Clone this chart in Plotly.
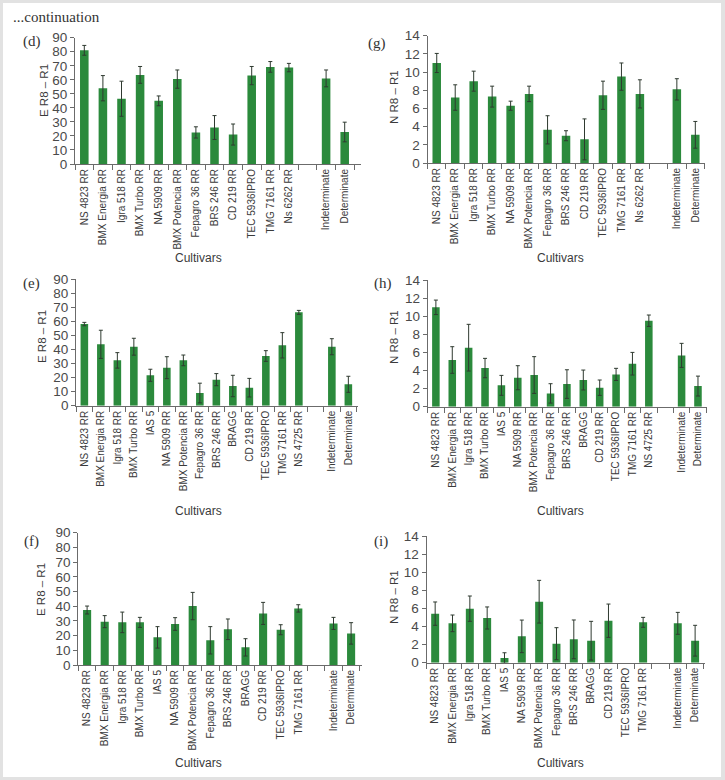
import plotly.graph_objects as go

W, H = 725, 780

# ---------------- data ----------------
cult_d = ["NS 4823 RR", "BMX Energia RR", "Igra 518 RR", "BMX Turbo RR", "NA 5909 RR",
          "BMX Potencia RR", "Fepagro 36 RR", "BRS 246 RR", "CD 219 RR", "TEC 5936IPRO",
          "TMG 7161 RR", "Ns 6262 RR"]
cult_e = ["NS 4823 RR", "BMX Energia RR", "Igra 518 RR", "BMX Turbo RR", "IAS 5", "NA 5909 RR",
          "BMX Potencia RR", "Fepagro 36 RR", "BRS 246 RR", "BRAGG", "CD 219 RR", "TEC 5936IPRO",
          "TMG 7161 RR", "NS 4725 RR"]
cult_f = ["NS 4823 RR", "BMX Energia RR", "Igra 518 RR", "BMX Turbo RR", "IAS 5", "NA 5909 RR",
          "BMX Potencia RR", "Fepagro 36 RR", "BRS 246 RR", "BRAGG", "CD 219 RR", "TEC 5936IPRO",
          "TMG 7161 RR"]
habit = ["Indeterminate", "Determinate"]

# (d) E R8-R1
val_d = [81, 54, 46.5, 63.5, 45, 60.5, 22.5, 26, 21, 63, 69.2, 68.7]
err_d = [3.5, 9, 12.5, 6, 3.5, 6.5, 4, 8.5, 7.5, 6.5, 3.8, 3]
hab_d = [61, 22.8]
herr_d = [6, 7]

# (g) N R8-R1
val_g = [11.0, 7.2, 9.0, 7.3, 6.3, 7.6, 3.65, 3.0, 2.6, 7.45, 9.5, 7.6]
err_g = [1.05, 1.4, 1.1, 1.15, 0.5, 0.85, 1.55, 0.55, 2.25, 1.55, 1.5, 1.55]
hab_g = [8.1, 3.1]
herr_g = [1.17, 1.47]

# (e) E R8-R1
val_e = [58, 43.6, 32.2, 41.9, 21.6, 27, 32.2, 9, 18.5, 14, 12.8, 35.3, 42.9, 66.3]
err_e = [1.2, 10, 5.5, 6, 4.3, 7.8, 3.8, 7, 4.3, 7.6, 6.6, 3.8, 9, 1.4]
hab_e = [41.9, 15.2]
herr_e = [5.7, 5.7]

# (h) N R8-R1
val_h = [10.98, 5.16, 6.52, 4.27, 2.36, 3.2, 3.5, 1.47, 2.5, 2.95, 2.1, 3.57, 4.75, 9.5]
err_h = [0.8, 1.47, 2.58, 1.07, 1.1, 1.33, 2.03, 1.07, 1.58, 1.1, 0.85, 0.67, 1.25, 0.63]
hab_h = [5.67, 2.28]
herr_h = [1.33, 1.1]

# (f) E R8-R1
val_f = [37.4, 29.5, 29, 29, 18.8, 27.9, 40.1, 16.8, 24.3, 12, 35.1, 24, 38.5]
err_f = [2.7, 4.1, 7, 3.4, 7.3, 4.3, 9.3, 9.3, 7, 5.9, 7.5, 3.4, 2.5]
hab_f = [28.3, 21.5]
herr_f = [4.1, 7.3]

# (i) N R8-R1
val_i = [5.42, 4.35, 5.97, 4.94, 0.52, 2.91, 6.74, 2.1, 2.58, 2.43, 4.64, None, 4.46]
err_i = [1.29, 0.92, 1.4, 1.22, 0.58, 1.8, 2.36, 1.77, 2.14, 2.14, 1.84, None, 0.55]
hab_i = [4.35, 2.43]
herr_i = [1.21, 1.7]

ylab_E = "E R8 – R1"
ylab_N = "N R8 – R1"
xlab = "Cultivars"

# ---------------- styles / layout ----------------
BAR = "#2b8a3c"
ERR = "#2f3a30"
AXC = "#6b6b6b"
TXT = "#3a3a3a"
SANS = "Liberation Sans, Arial, sans-serif"
SERIF = "Liberation Serif, Times New Roman, serif"

panels = [
    dict(tag="(d)", c=cult_d, v=val_d, e=err_d, hv=hab_d, he=herr_d, yl=ylab_E, ymax=90, dt=10,
         x0=75.0, slot=18.6, ext=0.35, y0=164.0, yt=37.7, tagxy=(32, 41), ylxy=(44, 91), xlxy=(198, 258)),
    dict(tag="(g)", c=cult_d, v=val_g, e=err_g, hv=hab_g, he=herr_g, yl=ylab_N, ymax=14, dt=2,
         x0=427.5, slot=18.47, ext=0.05, y0=163.0, yt=35.7, tagxy=(377, 43), ylxy=(394, 97), xlxy=(560, 258)),
    dict(tag="(e)", c=cult_e, v=val_e, e=err_e, hv=hab_e, he=herr_e, yl=ylab_E, ymax=90, dt=10,
         x0=76.1, slot=16.5, ext=0.1, y0=405.7, yt=279.0, tagxy=(32, 283), ylxy=(42, 337), xlxy=(198, 511)),
    dict(tag="(h)", c=cult_e, v=val_h, e=err_h, hv=hab_h, he=herr_h, yl=ylab_N, ymax=14, dt=2,
         x0=427.7, slot=16.38, ext=0.05, y0=406.7, yt=280.0, tagxy=(383, 283), ylxy=(394, 337), xlxy=(560, 511)),
    dict(tag="(f)", c=cult_f, v=val_f, e=err_f, hv=hab_f, he=herr_f, yl=ylab_E, ymax=90, dt=10,
         x0=78.3, slot=17.6, ext=0.1, y0=665.0, yt=532.7, tagxy=(32, 541), ylxy=(41, 590), xlxy=(198, 763)),
    dict(tag="(i)", c=cult_f, v=val_i, e=err_i, hv=hab_i, he=herr_i, yl=ylab_N, ymax=14, dt=2,
         x0=426.5, slot=17.33, ext=0.05, y0=662.7, yt=536.0, tagxy=(381, 541), ylxy=(394, 597), xlxy=(560, 763)),
]

fig = go.Figure()
annotations = []
layout_axes = {}

for k, p in enumerate(panels, start=1):
    cats = p["c"] + [" "] + habit
    vals = p["v"] + [None] + p["hv"]
    errs = p["e"] + [None] + p["he"]
    n = len(cats)
    xa = "x" if k == 1 else f"x{k}"
    ya = "y" if k == 1 else f"y{k}"
    fig.add_trace(go.Bar(
        x=cats, y=vals, xaxis=xa, yaxis=ya,
        marker=dict(color=BAR, line=dict(width=0)),
        error_y=dict(type="data", array=errs, visible=True, color=ERR, thickness=1, width=2),
        showlegend=False,
    ))
    x1 = p["x0"] + p["slot"] * (n + p["ext"])
    xdom = [p["x0"] / W, x1 / W]
    ydom = [1 - p["y0"] / H, 1 - p["yt"] / H]
    xkey = "xaxis" if k == 1 else f"xaxis{k}"
    ykey = "yaxis" if k == 1 else f"yaxis{k}"
    layout_axes[xkey] = dict(
        domain=xdom, anchor=ya, type="category", categoryorder="array", categoryarray=cats,
        range=[-0.5, n - 0.5 + p["ext"]], showline=True, linecolor=AXC, linewidth=1,
        ticks="outside", tickson="boundaries", ticklen=5, tickcolor=AXC, tickwidth=1,
        tickangle=-90, tickfont=dict(family=SANS, size=10, color=TXT), showgrid=False,
        zeroline=False, fixedrange=True, automargin=False,
    )
    layout_axes[ykey] = dict(
        domain=ydom, anchor=xa, range=[0, p["ymax"]], dtick=p["dt"], tick0=0,
        showline=True, linecolor=AXC, linewidth=1, ticks="outside", ticklen=4,
        tickcolor=AXC, tickwidth=1, tickfont=dict(family=SANS, size=13.5, color="#4a4a4a"),
        showgrid=False, zeroline=False, fixedrange=True, automargin=False,
    )
    tx, ty = p["tagxy"]
    annotations.append(dict(text=p["tag"], x=tx / W, y=1 - ty / H, xref="paper", yref="paper",
                            showarrow=False, xanchor="center", yanchor="middle",
                            font=dict(family=SERIF, size=15, color="#333333")))
    lx, ly = p["ylxy"]
    annotations.append(dict(text=p["yl"], x=lx / W, y=1 - ly / H, xref="paper", yref="paper",
                            showarrow=False, xanchor="center", yanchor="middle", textangle=-90,
                            font=dict(family=SANS, size=11.5, color=TXT)))
    cx, cy = p["xlxy"]
    annotations.append(dict(text=xlab, x=cx / W, y=1 - cy / H, xref="paper", yref="paper",
                            showarrow=False, xanchor="center", yanchor="middle",
                            font=dict(family=SANS, size=12, color=TXT)))

annotations.append(dict(text="...continuation", x=11 / W, y=1 - 17 / H, xref="paper", yref="paper",
                        showarrow=False, xanchor="left", yanchor="middle",
                        font=dict(family=SERIF, size=15, color="#333333")))

fig.update_layout(
    template="none",
    width=W, height=H, autosize=False, margin=dict(l=0, r=0, t=0, b=0, pad=0),
    paper_bgcolor="#e2e2e2", plot_bgcolor="rgba(0,0,0,0)",
    bargap=0.54, annotations=annotations,
    shapes=[dict(type="rect", xref="paper", yref="paper", x0=3 / W, x1=721 / W, y0=1 - 777 / H, y1=1 - 3 / H,
                 fillcolor="white", line=dict(width=0), layer="below")],
    **layout_axes,
)

fig.write_html("out.html")
